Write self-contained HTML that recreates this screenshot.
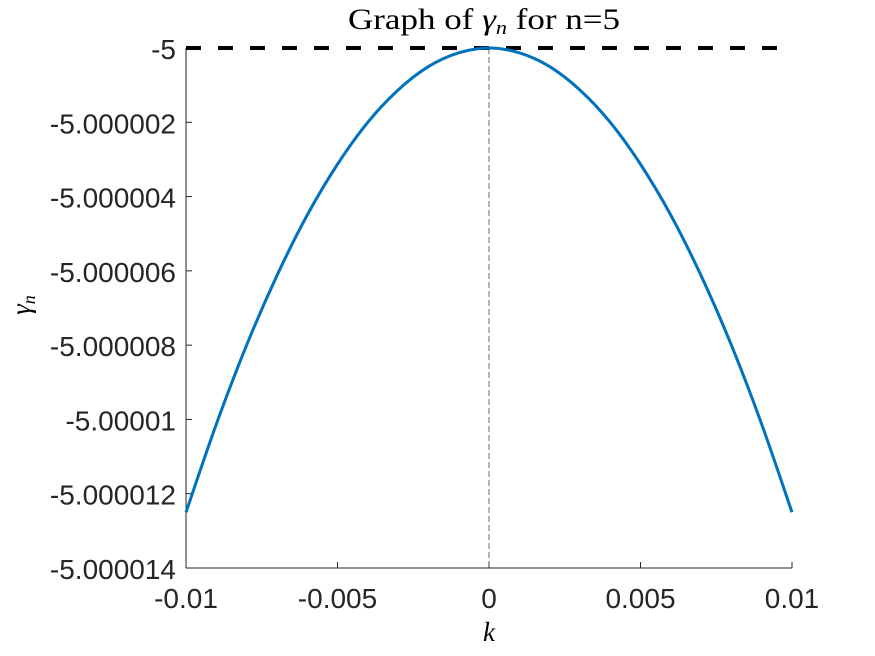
<!DOCTYPE html>
<html><head><meta charset="utf-8">
<style>
html,body{margin:0;padding:0;background:#fff;}
svg{display:block;}
.tick{font-family:"Liberation Sans",sans-serif;font-size:28px;fill:#262626;}
.ser{font-family:"Liberation Serif",serif;fill:#000;}
</style></head>
<body>
<svg id="chart" width="875" height="656" viewBox="0 0 875 656" xmlns="http://www.w3.org/2000/svg">
<rect width="875" height="656" fill="#fff"/>
<text class="ser" x="348" y="29" font-size="30" textLength="272" lengthAdjust="spacingAndGlyphs">Graph of <tspan font-style="italic">γ</tspan><tspan font-style="italic" font-size="19" dy="5">n</tspan><tspan dy="-5"> for n=5</tspan></text>
<text class="ser" x="489" y="641" font-size="27" font-style="italic" text-anchor="middle">k</text>
<text class="ser" transform="translate(30,305) rotate(-90)" font-size="27" font-style="italic" text-anchor="middle">γ<tspan font-size="18" dy="5">n</tspan></text>
</svg>
<script>
const kValues=[-0.01,-0.009,-0.008,-0.007,-0.006,-0.005,-0.004,-0.003,-0.002,-0.001,0,0.001,0.002,0.003,0.004,0.005,0.006,0.007,0.008,0.009,0.01];
const gammaValues=[-5.0000125,-5.00001013,-5.000008,-5.00000613,-5.0000045,-5.00000313,-5.000002,-5.00000113,-5.0000005,-5.00000013,-5,-5.00000013,-5.0000005,-5.00000113,-5.000002,-5.00000313,-5.0000045,-5.00000613,-5.000008,-5.00001013,-5.0000125];
const xTicks=[-0.01,-0.005,0,0.005,0.01];
const xTickLabels=["-0.01","-0.005","0","0.005","0.01"];
const yTicks=[-5,-5.000002,-5.000004,-5.000006,-5.000008,-5.00001,-5.000012,-5.000014];
const yTickLabels=["-5","-5.000002","-5.000004","-5.000006","-5.000008","-5.00001","-5.000012","-5.000014"];
const refLevel=[-5];

const L=186,R=792,T=48,B=568;
const xMin=-0.01,xMax=0.01,yMin=-5.000014,yMax=-5;
const sx=v=>L+(v-xMin)/(xMax-xMin)*(R-L);
const sy=v=>B-(v-yMin)/(yMax-yMin)*(B-T);
const NS="http://www.w3.org/2000/svg";
const svg=document.getElementById('chart');
function mk(tag,attrs){const e=document.createElementNS(NS,tag);for(const k in attrs)e.setAttribute(k,attrs[k]);svg.appendChild(e);return e;}

let e=mk('line',{x1:L,y1:B,x2:R,y2:B,stroke:'#262626','stroke-width':1});


e=mk('line',{x1:L,y1:T,x2:L,y2:B,stroke:'#262626','stroke-width':1});



xTicks.forEach((v,i)=>{
 const x=sx(v);
 let t=mk('line',{x1:x,y1:B,x2:x,y2:B-6,stroke:'#262626'});
 
 
 let l=mk('text',{x:x,y:B+40,'text-anchor':'middle',class:'tick'});
 l.textContent=xTickLabels[i];
 
 
});
yTicks.forEach((v,i)=>{
 const y=sy(v);
 let t=mk('line',{x1:L,y1:y,x2:L+6,y2:y,stroke:'#262626'});
 
 
 let l=mk('text',{x:L-10,y:y+11,'text-anchor':'end',class:'tick'});
 l.textContent=yTickLabels[i];
 
 
});

e=mk('line',{x1:sx(0),y1:T,x2:sx(0),y2:B,stroke:'#444','stroke-width':0.8,'stroke-dasharray':'6,3'});



e=mk('line',{x1:L,y1:sy(refLevel[0]),x2:R,y2:sy(refLevel[0]),stroke:'#000','stroke-width':4,'stroke-dasharray':'15,17'});



const pts=kValues.map((k,i)=>[sx(k),sy(gammaValues[i])]);
let d='M'+pts[0][0]+','+pts[0][1];
for(let i=0;i<pts.length-1;i++){
 const p0=pts[Math.max(i-1,0)],p1=pts[i],p2=pts[i+1],p3=pts[Math.min(i+2,pts.length-1)];
 d+=' C'+(p1[0]+(p2[0]-p0[0])/6)+','+(p1[1]+(p2[1]-p0[1])/6)+' '+(p2[0]-(p3[0]-p1[0])/6)+','+(p2[1]-(p3[1]-p1[1])/6)+' '+p2[0]+','+p2[1];
}
e=mk('path',{d:d,fill:'none',stroke:'#0072BD','stroke-width':3});


</script>
</body></html>
